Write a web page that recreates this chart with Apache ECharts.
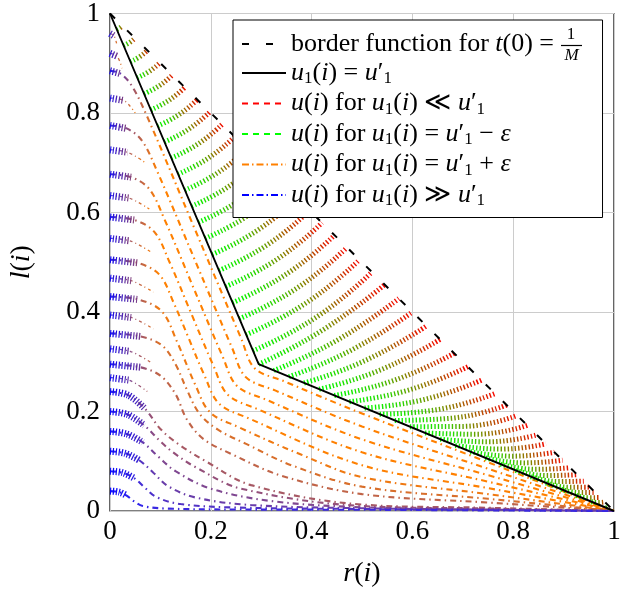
<!DOCTYPE html>
<html><head><meta charset="utf-8">
<script src="https://cdn.jsdelivr.net/npm/echarts/dist/echarts.min.js"></script>
<style>html,body{margin:0;padding:0;background:#fff}#c{width:632px;height:596px}</style>
</head><body><div id="c"></div><script>
// ---------- data ----------
const tickValues = [0, 0.2, 0.4, 0.6, 0.8, 1];
const borderR = [0, 1];
const borderL = [1, 0];
const limitR = [0, 0.295, 1];
const limitL = [1, 0.295, 0];

// u(i) curves above the u1 = u1' line (green -> red), upper part
const gUpper = [
[[0.0135,0.9677],[0.0195,0.9709],[0.0247,0.9753]],
[[0.027,0.9354],[0.039,0.9419],[0.0495,0.9505]],
[[0.0405,0.9031],[0.0585,0.9128],[0.0742,0.9258]],
[[0.054,0.8709],[0.078,0.8837],[0.099,0.901]],
[[0.0676,0.8386],[0.0975,0.8547],[0.1237,0.8763]],
[[0.0811,0.8063],[0.117,0.8256],[0.1485,0.8515]],
[[0.0946,0.774],[0.1365,0.7965],[0.1732,0.8268]],
[[0.1081,0.7417],[0.156,0.7675],[0.198,0.802]],
[[0.1216,0.7094],[0.1755,0.7384],[0.2227,0.7773]],
[[0.1351,0.6771],[0.195,0.7093],[0.2475,0.7525]],
[[0.1486,0.6448],[0.2144,0.6803],[0.2722,0.7278]],
[[0.1621,0.6126],[0.2339,0.6512],[0.297,0.703]],
[[0.1756,0.5803],[0.2534,0.6221],[0.3217,0.6783]],
[[0.1891,0.548],[0.2729,0.5931],[0.3465,0.6535]],
[[0.2027,0.5157],[0.2924,0.564],[0.3712,0.6288]],
[[0.2162,0.4834],[0.3119,0.5349],[0.396,0.604]],
[[0.2297,0.4511],[0.3314,0.5059],[0.4207,0.5793]],
[[0.2432,0.4188],[0.3509,0.4768],[0.4455,0.5545]],
[[0.2567,0.3865],[0.3704,0.4477],[0.4702,0.5298]],
[[0.2702,0.3543],[0.3899,0.4187],[0.495,0.505]],
[[0.2837,0.322],[0.4094,0.3896],[0.5197,0.4803]]
];
// lower part
const gLower = [
[[0.295,0.295],[0.42,0.3625],[0.545,0.455]],
[[0.325,0.2824],[0.449,0.3423],[0.573,0.427]],
[[0.355,0.2699],[0.4775,0.3227],[0.6,0.4]],
[[0.385,0.2573],[0.5065,0.3025],[0.628,0.372]],
[[0.415,0.2448],[0.535,0.2829],[0.655,0.345]],
[[0.445,0.2322],[0.564,0.2627],[0.683,0.317]],
[[0.475,0.2197],[0.5925,0.2431],[0.71,0.29]],
[[0.505,0.2071],[0.621,0.2235],[0.737,0.263]],
[[0.535,0.1946],[0.6495,0.2038],[0.764,0.236]],
[[0.565,0.182],[0.676,0.1864],[0.787,0.213]],
[[0.595,0.1695],[0.7015,0.1701],[0.808,0.192]],
[[0.625,0.1569],[0.7265,0.1543],[0.828,0.172]],
[[0.655,0.1443],[0.751,0.1391],[0.847,0.153]],
[[0.685,0.1318],[0.775,0.1244],[0.865,0.135]],
[[0.715,0.1192],[0.7985,0.1102],[0.882,0.118]],
[[0.745,0.1067],[0.8215,0.0967],[0.898,0.102]],
[[0.775,0.0941],[0.844,0.0837],[0.913,0.087]],
[[0.805,0.0816],[0.866,0.0712],[0.927,0.073]],
[[0.835,0.069],[0.8875,0.0592],[0.94,0.06]],
[[0.865,0.0565],[0.9085,0.0479],[0.952,0.048]],
[[0.895,0.0439],[0.929,0.0371],[0.963,0.037]],
[[0.925,0.0314],[0.949,0.0268],[0.973,0.027]],
[[0.955,0.0188],[0.9685,0.017],[0.982,0.018]],
[[0.985,0.0063],[0.9875,0.0079],[0.99,0.01]]
];

// u(i) curves below the u1 = u1' line (blue -> orange), leaving the l(i) axis
const oCurves = [
[[0,0.885],[0.021,0.879],[0.043,0.855],[0.0728,0.795],[0.1669,0.57],[0.2607,0.3458],[0.287,0.287],[0.3458,0.2607],[0.5,0.196],[0.75,0.098],[0.92,0.0314],[1,0]],
[[0,0.775],[0.033,0.769],[0.063,0.745],[0.0927,0.685],[0.1702,0.5],[0.2424,0.3275],[0.2693,0.2693],[0.3275,0.2424],[0.5,0.17],[0.75,0.085],[0.92,0.0272],[1,0]],
[[0,0.677],[0.042,0.671],[0.078,0.647],[0.1078,0.587],[0.1651,0.45],[0.224,0.3092],[0.2516,0.2516],[0.3092,0.224],[0.5,0.144],[0.75,0.072],[0.92,0.023],[1,0]],
[[0,0.591],[0.048,0.585],[0.088,0.561],[0.1178,0.501],[0.16,0.4],[0.2057,0.2908],[0.2338,0.2338],[0.2908,0.2057],[0.5,0.118],[0.75,0.059],[0.92,0.0189],[1,0]],
[[0,0.505],[0.054,0.499],[0.098,0.475],[0.1278,0.415],[0.155,0.35],[0.1874,0.2725],[0.2161,0.2161],[0.2725,0.1874],[0.5,0.092],[0.75,0.046],[0.92,0.0147],[1,0]],
[[0,0.431],[0.057,0.425],[0.103,0.401],[0.1327,0.341],[0.169,0.2542],[0.1984,0.1984],[0.2542,0.169],[0.38,0.113],[0.5,0.068],[0.75,0.034],[0.92,0.0109],[1,0]],
[[0,0.357],[0.06,0.351],[0.103,0.333],[0.13,0.295],[0.152,0.245],[0.178,0.195],[0.215,0.163],[0.27,0.135],[0.36,0.092],[0.5,0.049],[0.75,0.0245],[0.92,0.0078],[1,0]],
[[0,0.295],[0.06,0.289],[0.1,0.272],[0.13,0.235],[0.152,0.185],[0.185,0.145],[0.24,0.115],[0.34,0.071],[0.5,0.034],[0.75,0.017],[0.92,0.0054],[1,0]],
[[0,0.24],[0.036,0.233],[0.07,0.205],[0.1,0.165],[0.135,0.135],[0.19,0.1],[0.28,0.052],[0.5,0.013],[0.75,0.0065],[0.92,0.002],[1,0]],
[[0,0.2],[0.035,0.194],[0.068,0.172],[0.1,0.14],[0.125,0.118],[0.17,0.088],[0.26,0.045],[0.5,0.01],[0.75,0.005],[0.92,0.0016],[1,0]],
[[0,0.16],[0.033,0.155],[0.065,0.138],[0.095,0.11],[0.13,0.08],[0.2,0.045],[0.32,0.02],[0.5,0.0075],[0.75,0.0037],[1,0]],
[[0,0.12],[0.03,0.116],[0.058,0.102],[0.085,0.078],[0.115,0.05],[0.17,0.027],[0.28,0.012],[0.5,0.0055],[0.75,0.0028],[1,0]],
[[0,0.08],[0.025,0.077],[0.048,0.066],[0.068,0.048],[0.092,0.028],[0.14,0.014],[0.25,0.007],[0.5,0.004],[0.75,0.002],[1,0]],
[[0,0.04],[0.018,0.038],[0.033,0.031],[0.047,0.02],[0.065,0.01],[0.11,0.005],[0.25,0.003],[0.5,0.0025],[0.75,0.0012],[1,0]]
];
// short rows between them on the l(i) axis
const oStubs = [
[[0,0.96],[0.008,0.955],[0.013,0.94]],
[[0,0.92],[0.014,0.914],[0.024,0.89]],
[[0,0.83],[0.028,0.825],[0.05,0.8]],
[[0,0.726],[0.035,0.721],[0.07,0.7]],
[[0,0.634],[0.038,0.629],[0.078,0.607]],
[[0,0.548],[0.04,0.543],[0.082,0.52]],
[[0,0.468],[0.042,0.463],[0.086,0.44]],
[[0,0.394],[0.042,0.389],[0.086,0.366]],
[[0,0.326],[0.04,0.321],[0.082,0.298]],
[[0,0.268],[0.038,0.263],[0.074,0.24]]
];

const legendNames = ['border', 'limit', 'red', 'green', 'orange', 'blue'];

// ---------- styling ----------
const SERIF = "'Liberation Serif','DejaVu Serif',serif";
function hex(c){return [1,3,5].map(i=>parseInt(c.substr(i,2),16));}
function mix(a,b,t){const A=hex(a),B=hex(b);return '#'+A.map((v,i)=>Math.round(v+(B[i]-v)*t).toString(16).padStart(2,'0')).join('');}
function lg(stops){return new echarts.graphic.LinearGradient(0,0,1,0,stops.map(s=>({offset:s[0],color:s[1]})));}
function endColor(a){const t=Math.pow(Math.max(0,Math.min(1,(0.52-a)/0.48)),1.5);return mix('#ff8000','#3a28e0',t);}

const series = [];
const base = {type:'line', smooth:0.35, symbol:'none', silent:true, z:2};
oCurves.forEach(pts => {
  const a = pts[0][1], end = endColor(a);
  series.push(Object.assign({}, base, {data: pts,
    lineStyle:{width:2.1, type:[6,4,1.5,4], color: lg([[0,'#1a1aff'],[0.04,mix('#1a1aff',end,0.5)],[0.1,end],[1,end]])}}));
  series.push(Object.assign({}, base, {data: pts.slice(0, a > 0.27 ? 2 : 3),
    lineStyle:{width:7, type:[1.2,1.7], color: lg([[0,'#0000ff'],[1,mix('#0000ff',end,0.6)]])}}));
});
oStubs.forEach(pts => {
  const end = endColor(pts[0][1]);
  series.push(Object.assign({}, base, {data: pts,
    lineStyle:{width:1.3, type:[3,3,1,3], color: lg([[0,'#3030ff'],[0.5,mix('#3030ff',end,0.6)],[1,end]])}}));
  series.push(Object.assign({}, base, {data: pts.slice(0, 2),
    lineStyle:{width:7, type:[1.2,1.7], color: lg([[0,'#0000ff'],[1,mix('#0000ff',end,0.6)]])}}));
});
const gStops = [[0,'#00ff00'],[0.35,'#30d000'],[0.6,'#8a8000'],[0.85,'#d03000'],[1,'#ff0000']];
gUpper.concat(gLower).forEach(pts => {
  series.push(Object.assign({}, base, {data: pts, z:3, smooth:0.5,
    lineStyle:{width:5, type:[1.4,2.1], color: lg(gStops)}}));
});
series.push({name:'limit', type:'line', data: limitR.map((r,i)=>[r,limitL[i]]), symbol:'none', silent:true, z:5,
  itemStyle:{color:'#000'}, lineStyle:{color:'#000', width:1.9}});
series.push({name:'border', type:'line', data: borderR.map((r,i)=>[r,borderL[i]]), symbol:'none', silent:true, z:6,
  itemStyle:{color:'#000'}, lineStyle:{color:'#000', width:2, type:[7,17]}});
const dummy = (name, color, type) => ({name, type:'line', data:[], symbol:'none', itemStyle:{color}, lineStyle:{color, width:1.6, type}});
series.push(dummy('red', '#ff0000', [6,5]));
series.push(dummy('green', '#00ff00', [6,5]));
series.push(dummy('orange', '#ff8000', [7,3,1.5,3]));
series.push(dummy('blue', '#0000ff', [7,3,1.5,3]));

const richBase = {
  rm:{fontFamily:SERIF, fontSize:26, lineHeight:28, color:'#000'},
  it:{fontFamily:SERIF, fontSize:26, lineHeight:28, color:'#000', fontStyle:'italic'},
  sb:{fontFamily:SERIF, fontSize:17, lineHeight:16, padding:[12,0,0,0], color:'#000'},
  fr:{width:30, lineHeight:28}
};
const U = '{it|u}{rm|(}{it|i}{rm|) for }{it|u}{sb|1}{rm|(}{it|i}{rm|) ';
const legendText = {
  border: '{rm|border function for }{it|t}{rm|(0) = }{fr|\u00a0}',
  limit: '{it|u}{sb|1}{rm|(}{it|i}{rm|) = }{it|u}{rm|\u2032}{sb|1}',
  red: U + '\u226a }{it|u}{rm|\u2032}{sb|1}',
  green: U + '= }{it|u}{rm|\u2032}{sb|1}{rm| \u2212 }{it|\u03b5}',
  orange: U + '= }{it|u}{rm|\u2032}{sb|1}{rm| + }{it|\u03b5}',
  blue: U + '\u226b }{it|u}{rm|\u2032}{sb|1}'
};

const axisCommon = {
  type:'value', min:0, max:1, interval:0.2,
  axisLine:{show:false}, axisTick:{show:false},
  splitLine:{show:true, lineStyle:{color:'#cccccc', width:1}},
  nameLocation:'middle',
  nameTextStyle:{rich:{
    rm:{fontFamily:SERIF, fontSize:28, color:'#000'},
    it:{fontFamily:SERIF, fontSize:28, color:'#000', fontStyle:'italic'}}}
};

const chart = echarts.init(document.getElementById('c'));
chart.setOption({
  animation:false,
  backgroundColor:'#fff',
  grid:{left:109, right:18, top:5, bottom:85, show:true, borderColor:'#000', borderWidth:1.2},
  xAxis: Object.assign({}, axisCommon, {
    name:'{it|r}{rm|(}{it|i}{rm|)}', nameGap:49,
    axisLabel:{fontFamily:SERIF, fontSize:27, color:'#000', margin:7}
  }),
  yAxis: Object.assign({}, axisCommon, {
    name:'{it|l}{rm|(}{it|i}{rm|)}', nameGap:74, nameRotate:90,
    axisLabel:{fontFamily:SERIF, fontSize:27, color:'#000', margin:10}
  }),
  legend:{
    data: legendNames, orient:'vertical', left:233, top:20, z:100,
    backgroundColor:'#fff', borderColor:'#000', borderWidth:1, borderRadius:0,
    padding:[11,12,8,8], itemWidth:44, itemHeight:14, itemGap:1.5, selectedMode:false,
    itemStyle:{opacity:0, borderWidth:0},
    formatter: name => legendText[name],
    textStyle:{fontFamily:SERIF, fontSize:26, color:'#000', rich: richBase}
  },
  graphic:[
    {type:'text', x:571, y:35, z:200, style:{text:'1', font:"17px 'Liberation Serif'", textAlign:'center', verticalAlign:'middle', textVerticalAlign:'middle', fill:'#000'}},
    {type:'line', z:200, shape:{x1:561, y1:45.5, x2:582, y2:45.5}, style:{stroke:'#000', lineWidth:1.2}},
    {type:'text', x:571.5, y:56, z:200, style:{text:'M', font:"italic 17px 'Liberation Serif'", textAlign:'center', verticalAlign:'middle', textVerticalAlign:'middle', fill:'#000'}}
  ],
  series: series
});
</script></body></html>
